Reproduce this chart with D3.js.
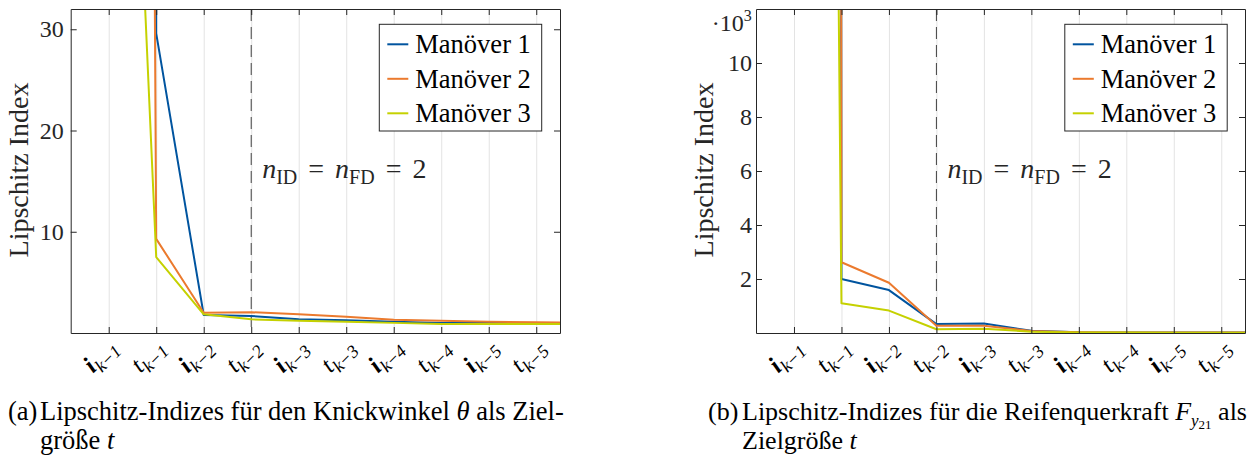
<!DOCTYPE html>
<html>
<head>
<meta charset="utf-8">
<script src="https://cdn.jsdelivr.net/npm/d3@7"></script>
<style>
  body { margin: 0; background: #fff; }
</style>
</head>
<body>
<script>
const serif = "Liberation Serif";

// x categories (tick labels): base letter + subscript
const categories = [
  ["i", "k\u22121"], ["t", "k\u22121"], ["i", "k\u22122"], ["t", "k\u22122"], ["i", "k\u22123"],
  ["t", "k\u22123"], ["i", "k\u22124"], ["t", "k\u22124"], ["i", "k\u22125"], ["t", "k\u22125"]
];
const seriesNames = ["Manöver 1", "Manöver 2", "Manöver 3"];
const colors = ["#00549F", "#EB7A2E", "#C5D100"];

// (a) Knickwinkel
const thetaM1 = [5000, 29.6, 1.78, 1.68, 1.35, 1.25, 1.1, 1.0, 1.0, 0.95, 0.95];
const thetaM2 = [800, 9.3, 2.0, 2.05, 1.85, 1.6, 1.3, 1.2, 1.1, 1.05, 1.0];
const thetaM3 = [113, 7.5, 1.85, 1.35, 1.2, 1.1, 1.0, 0.9, 0.88, 0.88, 0.88];
const thetaTicks = [10, 20, 30];

// (b) Reifenquerkraft
const forceM1 = [2000000, 2000, 1590, 330, 350, 80, 30, 20, 15, 15, 15];
const forceM2 = [2000000, 2620, 1860, 270, 270, 70, 30, 20, 15, 15, 15];
const forceM3 = [191000, 1100, 830, 140, 160, 50, 20, 15, 10, 10, 10];
const forceTicks = [2000, 4000, 6000, 8000, 10000];

const svg = d3.select("body").append("svg").attr("width", 1248).attr("height", 461)
  .attr("font-family", serif);
const axisColor = "#262626";

function drawPanel(opt) {
  const x = d3.scaleLinear().domain([-0.8, 9.5]).range([opt.left, opt.right]);
  const y = d3.scaleLinear().domain(opt.yDomain).range([333, 9]);
  const g = svg.append("g");
  const clipId = "clip" + opt.id;
  svg.append("clipPath").attr("id", clipId).append("rect")
    .attr("x", opt.left).attr("y", 9).attr("width", opt.right - opt.left).attr("height", 324);

  // vertical grid
  g.append("g").attr("transform", "translate(0,333)")
    .call(d3.axisBottom(x).tickValues(d3.range(10)).tickSize(-324).tickFormat(""))
    .call(a => a.select(".domain").remove())
    .call(a => a.selectAll("line").attr("stroke", "#e3e3e3").attr("stroke-width", 1));

  // dashed marker at t_{k-2}
  g.append("line").attr("x1", x(3)).attr("x2", x(3)).attr("y1", 9).attr("y2", 333)
    .attr("stroke", "#404040").attr("stroke-width", 1).attr("stroke-dasharray", "12,6");

  g.append("text").attr("x", x(3) + 11).attr("y", 178).attr("font-family", serif)
    .style("font-size", "28px").attr("fill", axisColor)
    .call(t => {
      t.append("tspan").style("font-style", "italic").text("n");
      t.append("tspan").attr("dy", 6).style("font-size", "20px").text("ID");
      t.append("tspan").attr("dy", -6).attr("dx", 4).text(" = ");
      t.append("tspan").attr("dx", 4).style("font-style", "italic").text("n");
      t.append("tspan").attr("dy", 6).style("font-size", "20px").text("FD");
      t.append("tspan").attr("dy", -6).attr("dx", 4).text(" =");
      t.append("tspan").attr("dx", 4).text(" 2");
    });

  // data lines
  const line = d3.line().x((d, i) => x(i)).y(d => y(d));
  g.append("g").attr("clip-path", `url(#${clipId})`)
    .selectAll("path").data(opt.series).join("path")
    .attr("d", line).attr("fill", "none")
    .attr("stroke", (d, i) => colors[i]).attr("stroke-width", 2).attr("stroke-linejoin", "round");

  // axes box with inward ticks
  const styleAxis = a => {
    a.attr("font-family", serif);
    a.selectAll("line").attr("stroke", axisColor);
    a.select(".domain").attr("stroke", axisColor);
    a.selectAll("text").style("font-size", "24px").attr("fill", axisColor).attr("font-family", serif);
  };
  g.append("g").attr("transform", "translate(0,333)")
    .call(d3.axisBottom(x).tickValues(d3.range(10)).tickSize(-6).tickSizeOuter(0).tickFormat(""))
    .call(styleAxis);
  g.append("g").attr("transform", "translate(0,9)")
    .call(d3.axisTop(x).tickValues(d3.range(10)).tickSize(-6).tickSizeOuter(0).tickFormat(""))
    .call(styleAxis);
  g.append("g").attr("transform", `translate(${opt.left},0)`)
    .call(d3.axisLeft(y).tickValues(opt.ticks).tickSize(-6).tickSizeOuter(0).tickPadding(opt.pad)
      .tickFormat(opt.fmt))
    .call(styleAxis);
  g.append("g").attr("transform", `translate(${opt.right},0)`)
    .call(d3.axisRight(y).tickValues(opt.ticks).tickSize(-6).tickSizeOuter(0).tickFormat(""))
    .call(styleAxis);

  // rotated x tick labels
  g.selectAll("text.xl").data(categories).join("text").attr("class", "xl")
    .attr("transform", (d, i) => `translate(${x(i) - 3},361) rotate(-45)`)
    .attr("text-anchor", "middle").style("font-size", "25px").attr("font-family", serif)
    .attr("fill", "#000")
    .call(t => {
      t.append("tspan").style("font-style", "italic")
        .style("font-weight", d => d[0] === "i" ? "bold" : "normal").text(d => d[0]);
      t.append("tspan").attr("dy", 6).style("font-size", "18px").style("font-style", "italic")
        .text(d => d[1]);
    });

  // y label
  g.append("text").attr("transform", `translate(${opt.ylabelX},170) rotate(-90)`)
    .attr("text-anchor", "middle").style("font-size", "28px").attr("font-family", serif)
    .attr("fill", axisColor).text("Lipschitz Index");

  // legend
  const lx = opt.legendX, lw = 162.4;
  g.append("rect").attr("x", lx).attr("y", 24.3).attr("width", lw).attr("height", 106.7)
    .attr("fill", "#fff").attr("stroke", axisColor).attr("stroke-width", 1);
  const items = g.selectAll("g.leg").data(seriesNames).join("g").attr("class", "leg")
    .attr("transform", (d, i) => `translate(${lx},${44.3 + i * 34.5})`);
  items.append("line").attr("x1", 8).attr("x2", 29).attr("stroke", (d, i) => colors[i]).attr("stroke-width", 2);
  items.append("text").attr("x", 36).attr("y", 9).style("font-size", "26.5px")
    .attr("font-family", serif).attr("fill", "#000").text(d => d);
  return g;
}

drawPanel({ id: "a", left: 70.7, right: 560, yDomain: [0, 32], ticks: thetaTicks, pad: 7,
  fmt: d3.format("d"), series: [thetaM1, thetaM2, thetaM3], ylabelX: 28, legendX: 379.3 });
const gb = drawPanel({ id: "b", left: 756, right: 1245, yDomain: [0, 12000], ticks: forceTicks, pad: 4,
  fmt: d => d / 1000, series: [forceM1, forceM2, forceM3], ylabelX: 713, legendX: 1064.8 });

// exponent label
gb.append("text").attr("x", 751.7).attr("y", 31).attr("text-anchor", "end").style("font-size", "24px")
  .attr("font-family", serif).attr("fill", axisColor)
  .call(t => {
    t.append("tspan").text("\u00b710");
    t.append("tspan").attr("dy", -10).style("font-size", "16px").text("3");
  });

// captions
const capA = svg.append("g").style("font-size", "26.5px").attr("font-family", serif);
capA.append("text").attr("x", 8).attr("y", 420).attr("fill", "#000").text("(a)");
capA.append("text").attr("x", 40).attr("y", 420).attr("fill", "#000")
  .call(t => {
    t.append("tspan").text("Lipschitz-Indizes für den Knickwinkel ");
    t.append("tspan").style("font-style", "italic").text("θ");
    t.append("tspan").text(" als Ziel-");
  });
capA.append("text").attr("x", 40).attr("y", 449).attr("fill", "#000")
  .call(t => {
    t.append("tspan").text("größe ");
    t.append("tspan").style("font-style", "italic").text("t");
  });
const capB = svg.append("g").style("font-size", "26px").attr("font-family", serif);
capB.append("text").attr("x", 708).attr("y", 420).attr("fill", "#000").text("(b)");
capB.append("text").attr("x", 742).attr("y", 420).attr("fill", "#000")
  .call(t => {
    t.append("tspan").text("Lipschitz-Indizes für die Reifenquerkraft ");
    t.append("tspan").style("font-style", "italic").text("F");
    t.append("tspan").attr("dy", 6).style("font-size", "17px").style("font-style", "italic").text("y");
    t.append("tspan").attr("dy", 3).style("font-size", "13px").text("21");
    t.append("tspan").attr("dy", -9).text(" als");
  });
capB.append("text").attr("x", 742).attr("y", 449).attr("fill", "#000")
  .call(t => {
    t.append("tspan").text("Zielgröße ");
    t.append("tspan").style("font-style", "italic").text("t");
  });
</script>
</body>
</html>
